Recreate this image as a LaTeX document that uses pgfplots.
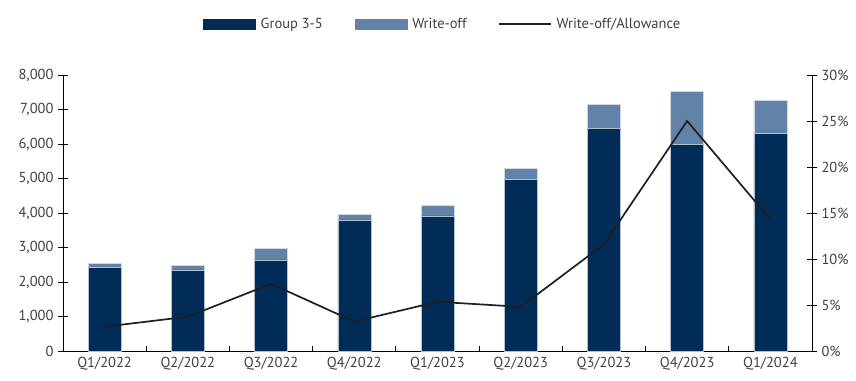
\documentclass[border=0pt]{standalone}
\usepackage{pgfplots}
\pgfplotsset{compat=1.18}
\usepackage{fontspec}
\setmainfont{PT Sans}
\definecolor{navy}{HTML}{022C58}
\definecolor{wo}{HTML}{6382A8}
\definecolor{txt}{HTML}{404040}
\definecolor{ln}{HTML}{1F1F1F}
\begin{document}
\begin{tikzpicture}[font=\fontsize{14.5}{16}\selectfont]
\pgfplotsset{
  base/.style={
    scale only axis, width=749pt, height=276pt,
    at={(0,0)}, anchor=south west,
    xmin=-0.5, xmax=8.5,
    /pgf/number format/assume math mode=true,
    tick label style={text=txt},
    tick style={black, line width=0.8pt},
  }
}
\begin{axis}[base,
  ymin=0, ymax=8000, ytick={0,1000,...,8000},
  /pgf/number format/1000 sep={,},
  axis x line*=bottom, axis y line*=left,
  axis line style={black, line width=0.8pt},
  xtick={0,...,8},
  xticklabels={Q1/2022,Q2/2022,Q3/2022,Q4/2022,Q1/2023,Q2/2023,Q3/2023,Q4/2023,Q1/2024},
  major x tick style={draw=none},
  minor xtick={0.5,1.5,...,7.5},
  minor tick length=5pt,
  xtick align=inside,
  ytick align=center, major tick length=10pt,
  ybar stacked, bar width=33pt,
  xticklabel style={yshift=-3pt},
  yticklabel style={xshift=-1pt},
]
\addplot[fill=navy, draw=white!70!navy, line width=0.4pt] coordinates {
(0,2430) (1,2350) (2,2640) (3,3800) (4,3920) (5,4985) (6,6444) (7,5980) (8,6300)};
\addplot[fill=wo, draw=white!70!wo, line width=0.4pt] coordinates {
(0,110) (1,140) (2,345) (3,170) (4,300) (5,310) (6,706) (7,1547) (8,975)};
\end{axis}
\begin{axis}[base,
  ymin=0, ymax=30, ytick={0,5,...,30},
  yticklabel={\pgfmathprintnumber{\tick}\%},
  axis y line*=right, axis x line=none,
  axis line style={black, line width=0.8pt},
  ytick align=center, major tick length=10pt,
  yticklabel style={xshift=1pt},
  legend style={draw=none, fill=none, at={(0.507,1.185)}, anchor=center,
    legend columns=3, text=txt, font=\fontsize{14.5}{16}\selectfont,
    /tikz/every even column/.append style={column sep=30pt}},
  legend cell align=left,
]
\addlegendimage{legend image code/.code={\fill[navy] (0pt,-5pt) rectangle (52pt,5pt); \path (55pt,0pt);}}
\addlegendentry{Group 3-5}
\addlegendimage{legend image code/.code={\fill[wo] (0pt,-5pt) rectangle (52pt,5pt); \path (55pt,0pt);}}
\addlegendentry{Write-off}
\addlegendimage{legend image code/.code={\draw[ln, line width=1.6pt] (0pt,0pt) -- (52pt,0pt); \path (55pt,0pt);}}
\addlegendentry{Write-off/Allowance}
\addplot[ln, line width=1.7pt, mark=none, forget plot] coordinates {
(0,2.64) (1,3.73) (2,7.3) (3,3.2) (4,5.35) (5,4.8) (6,11.6) (7,25.0) (8,14.3)};
\end{axis}
\path (-63pt,-29pt) rectangle (793pt,351pt);
\end{tikzpicture}
\end{document}
